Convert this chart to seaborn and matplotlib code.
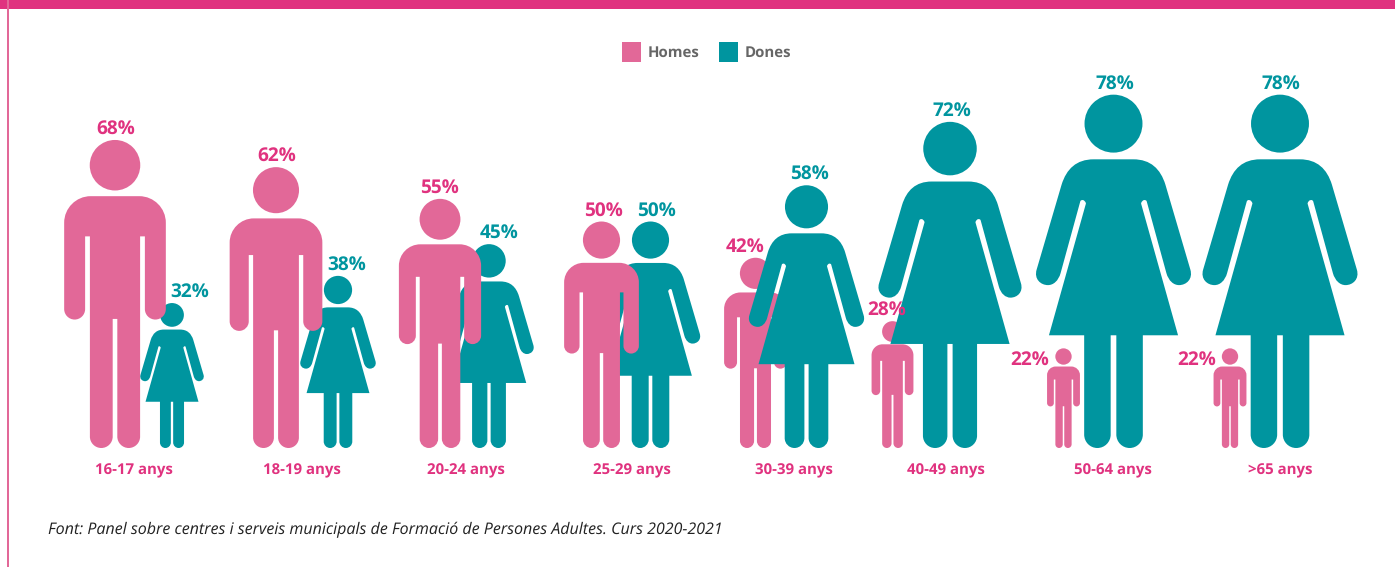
import numpy as np
import pandas as pd
import matplotlib
matplotlib.use("Agg")
import matplotlib.pyplot as plt
from matplotlib.markers import MarkerStyle
from matplotlib.patches import Patch, Rectangle
from matplotlib.path import Path
import seaborn as sns

# Survey shares per age band
age_groups = ["16-17 anys", "18-19 anys", "20-24 anys", "25-29 anys",
              "30-39 anys", "40-49 anys", "50-64 anys", ">65 anys"]
homes = [68, 62, 55, 50, 42, 28, 22, 22]
dones = [32, 38, 45, 50, 58, 72, 78, 78]

# Horizontal layout of the pictograms and their labels
homes_x = [115, 276, 440, 601.5, 755.5, 892.5, 1063.5, 1230]
dones_x = [172, 338, 489, 650.5, 806.5, 950, 1113.5, 1280]
homes_label_x = [116, 277, 439, 603, 745, 887, 1030, 1197]
dones_label_x = [190, 347, 499, 656, 809, 952, 1115, 1281]
group_label_x = [133.5, 302, 466, 631.5, 794, 946, 1113, 1280.5]

WIDTH, HEIGHT = 1395, 567
BASE_PX = 448          # pixel row of the feet
PX_PER_PCT = 4.53      # figure height per percentage point
PT_PER_PX = 0.72

PINK = "#E26898"
PINK_TEXT = "#E0327F"
TEAL = "#00959F"
GREY = "#666666"
LABEL_FONT = "Open Sans"


def outline(start, segments):
    """Mirror a right-hand outline around x=0 and close it into a silhouette."""
    verts, codes = [start], []
    for seg in segments:
        if len(seg) == 1:
            verts.append(seg[0])
            codes.append(Path.LINETO)
        else:
            verts.extend(seg)
            codes.extend([Path.CURVE4] * 3)
    left_v = [(-x, y) for x, y in verts[-2::-1]]
    left_c = codes[::-1]
    all_v = verts + left_v + [verts[0]]
    all_c = [Path.MOVETO] + codes + left_c + [Path.CLOSEPOLY]
    return Path(all_v, all_c)


def person(body):
    head = Path.circle(center=(0, 0.918), radius=0.082)
    merged = Path.make_compound_path(head, body)
    return Path(merged.vertices - [0, 0.5], merged.codes)


K = 0.55
man_body = outline((0, 0.8175), [
    [(0.079, 0.8175)],
    [(0.079 + 0.086 * K, 0.8175), (0.165, 0.7315 + 0.086 * K), (0.165, 0.7315)],
    [(0.165, 0.451)],
    [(0.165, 0.451 - 0.034 * K), (0.131 + 0.034 * K, 0.417), (0.131, 0.417)],
    [(0.131 - 0.034 * K, 0.417), (0.097, 0.451 - 0.034 * K), (0.097, 0.451)],
    [(0.097, 0.687)],
    [(0.0815, 0.687)],
    [(0.0815, 0.037)],
    [(0.0815, 0.037 - 0.037 * K), (0.0445 + 0.037 * K, 0), (0.0445, 0)],
    [(0.0445 - 0.037 * K, 0), (0.0075, 0.037 - 0.037 * K), (0.0075, 0.037)],
    [(0.0075, 0.419)],
    [(0, 0.419)],
])
woman_body = outline((0, 0.817), [
    [(0.056, 0.817)],
    [(0.105, 0.817), (0.133, 0.79), (0.147, 0.745)],
    [(0.2175, 0.505)],
    [(0.2255, 0.478), (0.206, 0.461), (0.1855, 0.461)],
    [(0.170, 0.461), (0.156, 0.473), (0.1497, 0.495)],
    [(0.094, 0.698)],
    [(0.092, 0.704), (0.081, 0.704), (0.078, 0.692)],
    [(0.1827, 0.319)],
    [(0.083, 0.319)],
    [(0.083, 0.038)],
    [(0.083, 0.038 - 0.038 * K), (0.0457 + 0.038 * K, 0), (0.0457, 0)],
    [(0.0457 - 0.038 * K, 0), (0.008, 0.038 - 0.038 * K), (0.008, 0.038)],
    [(0.008, 0.319)],
    [(0, 0.319)],
])

sns.set_theme(style="white")
plt.rcParams["text.hinting"] = "none"
plt.rcParams["text.hinting_factor"] = 1
fig = plt.figure(figsize=(WIDTH / 100, HEIGHT / 100), dpi=100)
ax = fig.add_axes([0, 0, 1, 1])

df = pd.concat([
    pd.DataFrame({"sexe": "Homes", "pos": homes_x, "pct": homes}),
    pd.DataFrame({"sexe": "Dones", "pos": dones_x, "pct": dones}),
], ignore_index=True)
df["centre"] = df["pct"] / 2
df["area"] = df["pct"] ** 2
# Taller figures stand in front of shorter ones; on a tie the man is in front
df = df.sort_values(["pct", "sexe"], kind="stable")


def marker_area(pct):
    return (pct * PX_PER_PCT * PT_PER_PX) ** 2


sns.scatterplot(
    data=df, x="pos", y="centre", hue="sexe", style="sexe", size="area",
    hue_order=["Homes", "Dones"], palette={"Homes": PINK, "Dones": TEAL},
    markers={"Homes": MarkerStyle(person(man_body)), "Dones": MarkerStyle(person(woman_body))},
    sizes=(marker_area(df["pct"].min()), marker_area(df["pct"].max())),
    linewidth=0, legend=False, ax=ax, clip_on=False, zorder=2,
)
ax.set_xlim(0, WIDTH)
ax.set_ylim(-(HEIGHT - BASE_PX) / PX_PER_PCT, BASE_PX / PX_PER_PCT)
ax.set_axis_off()

# Percentage labels sit just above the heads, except beside the shortest men
for x, v in zip(homes_label_x, homes):
    off = -11.5 if v == 22 else 11
    ax.annotate(f"{v}%", (x, v), xytext=(0, off * PT_PER_PX), textcoords="offset points",
                ha="center", va="center", color=PINK_TEXT, fontsize=13.4, fontweight="bold",
                family=LABEL_FONT, zorder=5)
for x, v in zip(dones_label_x, dones):
    ax.annotate(f"{v}%", (x, v), xytext=(0, 11 * PT_PER_PX), textcoords="offset points",
                ha="center", va="center", color=TEAL, fontsize=13.4, fontweight="bold",
                family=LABEL_FONT, zorder=5)

# Age band captions under the feet
for x, name in zip(group_label_x, age_groups):
    ax.annotate(name, (x, 0), xytext=(0, -22 * PT_PER_PX), textcoords="offset points",
                ha="center", va="center", color=PINK_TEXT, fontsize=11.1, fontweight="bold",
                family=LABEL_FONT, zorder=5)

# Page furniture: top band and left rule, in axes fractions
ax.add_patch(Rectangle((0, 1 - 9 / HEIGHT), 1, 9 / HEIGHT, transform=ax.transAxes,
                       facecolor=PINK_TEXT, edgecolor="none", zorder=1))
ax.add_patch(Rectangle((7 / WIDTH, 0), 2 / WIDTH, 1, transform=ax.transAxes,
                       facecolor=PINK, edgecolor="none", zorder=1))

ax.legend(
    handles=[Patch(facecolor=PINK, edgecolor="none", label="Homes"),
             Patch(facecolor=TEAL, edgecolor="none", label="Dones")],
    loc="center", bbox_to_anchor=(706.5 / WIDTH, 1 - 52 / HEIGHT), ncol=2, frameon=False,
    handlelength=1.3, handleheight=1.63, handletextpad=0.5, columnspacing=1.3,
    labelcolor=GREY, prop={"family": LABEL_FONT, "weight": "bold", "size": 10.5},
)

ax.text(48 / WIDTH, 1 - 530 / HEIGHT,
        "Font: Panel sobre centres i serveis municipals de Formació de Persones Adultes. Curs 2020-2021",
        transform=ax.transAxes, ha="left", va="center", color="#222222", fontsize=11.72,
        style="italic", family=LABEL_FONT)

fig.savefig("out.png", dpi=100, facecolor="white")
